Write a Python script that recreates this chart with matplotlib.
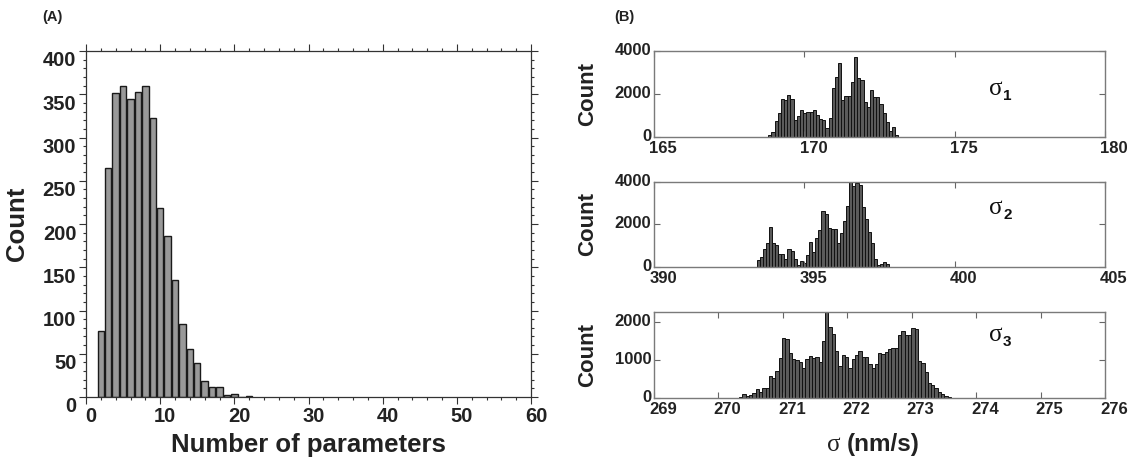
import matplotlib
matplotlib.use("Agg")
import matplotlib.pyplot as plt
import numpy as np
from matplotlib.transforms import ScaledTranslation
from matplotlib.ticker import MultipleLocator

# ---------------- data ----------------
n_params = [2, 3, 4, 5, 6, 7, 8, 9, 10, 11, 12, 13, 14, 15, 16, 17, 18, 19, 20, 21, 22]
n_params_count = [76, 265, 351, 360, 345, 353, 360, 322, 219, 186, 135, 84, 56, 39, 18, 12, 11, 2, 3, 0, 1]

sigma1_range = (168.80, 173.13)
sigma1_counts = [80, 220, 740, 1130, 1750, 1700, 1950, 1790, 780, 960, 1240, 1120, 1150, 1180,
                 1270, 1020, 820, 790, 420, 900, 2300, 2800, 3420, 1710, 1890, 1890, 2570, 3720,
                 2750, 2650, 1610, 1380, 2170, 1840, 1860, 1520, 1130, 680, 260, 480, 80]

sigma2_range = (393.41, 397.83)
sigma2_counts = [310, 450, 810, 1120, 1850, 1120, 1040, 575, 575, 340, 840, 730, 370, 80, 265,
                 190, 545, 1170, 700, 1350, 1710, 2600, 2470, 1810, 1790, 1790, 1120, 1590, 2160,
                 2860, 4000, 3810, 3920, 3840, 2820, 2230, 1650, 1100, 380, 80, 150, 200, 130]

sigma3_range = (270.32, 273.61)
sigma3_counts = [10, 88, 44, 70, 115, 220, 160, 245, 265, 570, 530, 715, 1055, 1565, 1540, 1170,
                 1020, 995, 930, 775, 1020, 1100, 1055, 1065, 950, 1500, 2270, 1875, 1680, 1235,
                 840, 1120, 1080, 775, 1030, 1120, 1245, 1080, 1065, 890, 775, 880, 1170, 1150,
                 1215, 1285, 1300, 1300, 1655, 1760, 1655, 1655, 1830, 1810, 970, 925, 690, 380,
                 335, 245, 140, 100, 55, 20]

sigma_panels = [
    dict(rng=sigma1_range, counts=sigma1_counts, xlim=(165, 180), xticks=[165, 170, 175, 180],
         ylim=(0, 4000), yticks=[0, 2000, 4000], sub="1"),
    dict(rng=sigma2_range, counts=sigma2_counts, xlim=(390, 405), xticks=[390, 395, 400, 405],
         ylim=(0, 4000), yticks=[0, 2000, 4000], sub="2"),
    dict(rng=sigma3_range, counts=sigma3_counts, xlim=(269, 276), xticks=[269, 270, 271, 272, 273, 274, 275, 276],
         ylim=(0, 2270), yticks=[0, 1000, 2000], sub="3"),
]

# ---------------- style ----------------
W, H = 1131, 463
DPI = 100
SANS = ["Liberation Sans", "DejaVu Sans"]
SERIF = ["Liberation Serif", "DejaVu Serif"]
TXT = "#222222"
plt.rcParams["font.family"] = SANS
plt.rcParams["font.weight"] = "bold"

fig = plt.figure(figsize=(W / DPI, H / DPI), dpi=DPI)

def fx(px):
    return px / W

def fy(px):
    return 1 - px / H

# ---------------- panel A ----------------
axA = fig.add_axes([fx(86), fy(397), fx(531) - fx(86), fy(51) - fy(397)])
axA.bar(n_params, n_params_count, width=0.86, color="#999999", edgecolor="#1a1a1a", linewidth=1.0)
axA.set_xlim(0, 60)
axA.set_ylim(0, 400)
axA.xaxis.set_major_locator(MultipleLocator(10))
axA.xaxis.set_minor_locator(MultipleLocator(2))
axA.yaxis.set_major_locator(MultipleLocator(50))
axA.yaxis.set_minor_locator(MultipleLocator(10))
axA.tick_params(which="both", direction="out", top=True, right=True, color="#333333", width=0.8)
axA.tick_params(which="major", length=5)
axA.tick_params(which="minor", length=2.5)
axA.tick_params(axis="both", labelsize=14.5, labelcolor=TXT, pad=2)
for s in axA.spines.values():
    s.set_color("#333333")
    s.set_linewidth(0.9)
for lab in axA.get_yticklabels():
    lab.set_fontweight("bold")
    lab.set_transform(lab.get_transform() + ScaledTranslation(0, -8 / DPI, fig.dpi_scale_trans))
for lab in axA.get_xticklabels():
    lab.set_fontweight("bold")
    lab.set_transform(lab.get_transform() + ScaledTranslation(5 / DPI, 0, fig.dpi_scale_trans))
axA.set_xlabel("Number of parameters", fontsize=18.5, fontweight="bold", color=TXT)
axA.xaxis.set_label_coords(0.5, -0.105)
axA.set_ylabel("Count", fontsize=18.5, fontweight="bold", color=TXT)
axA.yaxis.set_label_coords(-0.128, 0.5)
fig.text(fx(42), fy(17), "(A)", fontsize=10.5, fontweight="bold", color=TXT, va="center", ha="left")

# ---------------- panel B ----------------
tops = [51, 181.7, 311.7]
bots = [137, 266.7, 397.7]
sig_y = [0.56, 0.69, 0.73]
for i, p in enumerate(sigma_panels):
    ax = fig.add_axes([fx(654), fy(bots[i]), fx(1105) - fx(654), fy(tops[i]) - fy(bots[i])])
    counts = p["counts"]
    lo, hi = p["rng"]
    n = len(counts)
    w = (hi - lo) / n
    left_edges = lo + w * np.arange(n)
    ax.bar(left_edges, counts, width=w, align="edge", color="#5a5a5a", edgecolor="#111111", linewidth=0.7)
    ax.set_xlim(*p["xlim"])
    ax.set_ylim(*p["ylim"])
    ax.set_xticks(p["xticks"])
    ax.set_yticks(p["yticks"])
    ax.tick_params(direction="in", top=True, right=True, length=4, width=0.8, color="#666666",
                   labelsize=12, labelcolor=TXT)
    ax.tick_params(axis="x", pad=3)
    ax.tick_params(axis="y", pad=2)
    for s in ax.spines.values():
        s.set_color("#7a7a7a")
        s.set_linewidth(1.0)
    for lab in ax.get_xticklabels():
        lab.set_fontweight("bold")
        lab.set_transform(lab.get_transform() + ScaledTranslation(9 / DPI, 0, fig.dpi_scale_trans))
    for lab in ax.get_yticklabels():
        lab.set_fontweight("bold")
        lab.set_transform(lab.get_transform() + ScaledTranslation(0, 2 / DPI, fig.dpi_scale_trans))
    ax.set_ylabel("Count", fontsize=16, fontweight="bold", color=TXT)
    ax.yaxis.set_label_coords(-0.124, 0.5)
    ax.text(0.743, sig_y[i], "σ", transform=ax.transAxes, family=SERIF, fontsize=18,
            fontweight="normal", color="#111111", ha="left", va="center")
    ax.text(0.743 + 0.031, sig_y[i] - 0.08, p["sub"], transform=ax.transAxes, fontsize=11,
            fontweight="bold", color="#111111", ha="left", va="center")

fig.text(fx(614), fy(17), "(B)", fontsize=10.5, fontweight="bold", color=TXT, va="center", ha="left")
fig.text(fx(841), fy(445), "σ", family=SERIF, fontsize=18, fontweight="normal", color=TXT,
         ha="right", va="center")
fig.text(fx(847), fy(445), "(nm/s)", fontsize=17.5, fontweight="bold", color=TXT, ha="left", va="center")

fig.savefig("out.png", dpi=DPI)
